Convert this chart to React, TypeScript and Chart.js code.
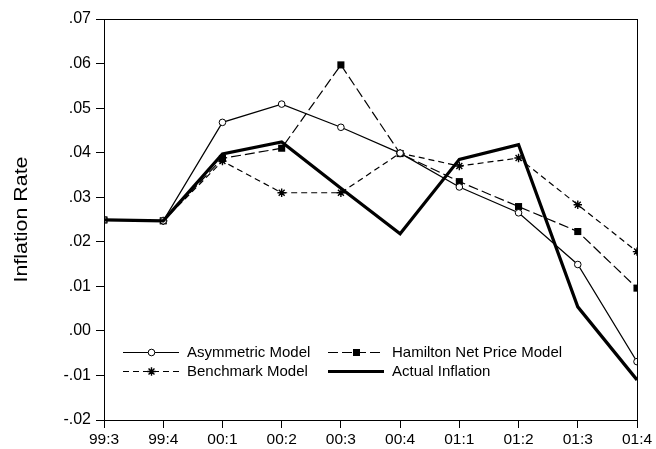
import React, { useEffect, useRef } from 'react';
import { Chart, registerables } from 'chart.js';

Chart.register(...registerables);

const categories = ['99:3', '99:4', '00:1', '00:2', '00:3', '00:4', '01:1', '01:2', '01:3', '01:4'];
const asymmetricModel = [0.0249, 0.0247, 0.0468, 0.0509, 0.0457, 0.0399, 0.0323, 0.0265, 0.0149, -0.0069];
const hamiltonModel = [0.0249, 0.0247, 0.0387, 0.041, 0.0597, 0.0398, 0.0335, 0.0279, 0.0223, 0.0096];
const benchmarkModel = [0.0249, 0.0247, 0.0381, 0.031, 0.031, 0.0399, 0.037, 0.0388, 0.0283, 0.0178];
const actualInflation = [0.0249, 0.0247, 0.0397, 0.0424, 0.032, 0.0218, 0.0385, 0.0418, 0.0054, -0.011];
const seriesNames = ['Asymmetric Model', 'Hamilton Net Price Model', 'Benchmark Model', 'Actual Inflation'];
const yAxisTitle = 'Inflation Rate';

const FONT = '"Liberation Sans", Arial, Helvetica, sans-serif';

function fmt(v: number): string {
  const s = Number(v).toFixed(2);
  return s.replace('0.', '.');
}

function drawMarker(ctx: CanvasRenderingContext2D, kind: string, x: number, y: number) {
  ctx.save();
  ctx.setLineDash([]);
  ctx.lineWidth = 1;
  ctx.strokeStyle = '#000';
  if (kind === 'circle') {
    ctx.fillStyle = '#fff';
    ctx.beginPath();
    ctx.arc(x, y, 3.3, 0, Math.PI * 2);
    ctx.fill();
    ctx.stroke();
  } else if (kind === 'rect') {
    ctx.fillStyle = '#000';
    ctx.fillRect(x - 3.5, y - 3.5, 7, 7);
  } else if (kind === 'star') {
    const r = 4.2;
    ctx.lineWidth = 1.4;
    ctx.beginPath();
    for (let i = 0; i < 4; i++) {
      const a = (i * Math.PI) / 4;
      ctx.moveTo(x - Math.cos(a) * r, y - Math.sin(a) * r);
      ctx.lineTo(x + Math.cos(a) * r, y + Math.sin(a) * r);
    }
    ctx.stroke();
  }
  ctx.restore();
}

export default function App() {
  const ref = useRef<HTMLCanvasElement>(null);

  useEffect(() => {
    if (!ref.current) return;

    const decor = {
      id: 'decor',
      afterDraw(chart: any) {
        const ctx: CanvasRenderingContext2D = chart.ctx;
        const a = chart.chartArea;
        ctx.save();
        // frame
        ctx.strokeStyle = '#000';
        ctx.lineWidth = 1;
        ctx.setLineDash([]);
        ctx.strokeRect(Math.round(a.left) + 0.5, Math.round(a.top) + 0.5, Math.round(a.right - a.left), Math.round(a.bottom - a.top));

        // y axis title
        ctx.save();
        ctx.translate(27, (a.top + a.bottom) / 2);
        ctx.rotate(-Math.PI / 2);
        ctx.font = `18px ${FONT}`;
        ctx.fillStyle = '#000';
        ctx.textAlign = 'center';
        ctx.textBaseline = 'alphabetic';
        const w = ctx.measureText(yAxisTitle).width;
        ctx.scale(126 / w, 1);
        ctx.fillText(yAxisTitle, 0, 0);
        ctx.restore();

        // legend
        const entries = [
          { name: seriesNames[0], col: 0, row: 0, dash: [] as number[], width: 1.2, marker: 'circle' },
          { name: seriesNames[1], col: 1, row: 0, dash: [10, 4], width: 1.2, marker: 'rect' },
          { name: seriesNames[2], col: 0, row: 1, dash: [6, 4], width: 1.2, marker: 'star' },
          { name: seriesNames[3], col: 1, row: 1, dash: [] as number[], width: 3, marker: '' },
        ];
        const colX = [a.left + 19, a.left + 224];
        const rowY = [a.bottom - 67.5, a.bottom - 48.5];
        ctx.font = `15px ${FONT}`;
        ctx.textAlign = 'left';
        ctx.textBaseline = 'middle';
        for (const e of entries) {
          const x0 = colX[e.col];
          const y = rowY[e.row];
          ctx.save();
          ctx.strokeStyle = '#000';
          ctx.lineWidth = e.width;
          ctx.setLineDash(e.dash);
          ctx.beginPath();
          ctx.moveTo(x0, y);
          ctx.lineTo(x0 + 56, y);
          ctx.stroke();
          ctx.restore();
          if (e.marker) drawMarker(ctx, e.marker, x0 + 28.5, y);
          ctx.fillStyle = '#000';
          ctx.fillText(e.name, x0 + 64, y + 0.5);
        }
        ctx.restore();
      },
    };

    const chart = new Chart(ref.current, {
      type: 'line',
      data: {
        labels: categories,
        datasets: [
          {
            label: seriesNames[3],
            data: actualInflation,
            borderColor: '#000',
            borderWidth: 3.2,
            pointRadius: 0,
            tension: 0,
            clip: 0,
          } as any,
          {
            label: seriesNames[0],
            data: asymmetricModel,
            borderColor: '#000',
            borderWidth: 1.2,
            pointStyle: 'circle',
            pointRadius: 3.3,
            pointBorderWidth: 1,
            pointBackgroundColor: '#fff',
            pointBorderColor: '#000',
            tension: 0,
            clip: 0,
          },
          {
            label: seriesNames[1],
            data: hamiltonModel,
            borderColor: '#000',
            borderWidth: 1.2,
            borderDash: [10, 4],
            pointStyle: 'rect',
            pointRadius: 5,
            pointBorderWidth: 0,
            pointBackgroundColor: '#000',
            pointBorderColor: '#000',
            tension: 0,
            clip: 0,
          },
          {
            label: seriesNames[2],
            data: benchmarkModel,
            borderColor: '#000',
            borderWidth: 1.2,
            borderDash: [6, 4],
            pointStyle: 'star',
            pointRadius: 4.2,
            pointBorderWidth: 1.4,
            pointBackgroundColor: '#000',
            pointBorderColor: '#000',
            tension: 0,
            clip: 0,
          },
        ],
      },
      options: {
        animation: false,
        responsive: true,
        maintainAspectRatio: false,
        devicePixelRatio: 1,
        layout: { padding: { top: 19, right: 19, left: 0, bottom: 0 } },
        plugins: {
          legend: { display: false },
          tooltip: { enabled: false },
          title: { display: false },
        },
        scales: {
          x: {
            type: 'category',
            offset: false,
            grid: { display: true, drawOnChartArea: false, drawTicks: true, tickLength: 8, color: '#000', lineWidth: 1 },
            border: { display: true, color: '#000', width: 1 },
            ticks: {
              color: '#000',
              font: { family: FONT, size: 15.5 },
              autoSkip: false,
              maxRotation: 0,
              minRotation: 0,
              padding: 2,
            },
            afterFit: (s: any) => {
              s.height = 29;
            },
          },
          y: {
            type: 'linear',
            min: -0.02,
            max: 0.07,
            grid: { display: true, drawOnChartArea: false, drawTicks: true, tickLength: 8, color: '#000', lineWidth: 1 },
            border: { display: true, color: '#000', width: 1 },
            ticks: {
              stepSize: 0.01,
              color: '#000',
              font: { family: FONT, size: 16 },
              padding: 5,
              callback: (v: any) => fmt(Number(v)),
            },
            afterFit: (s: any) => {
              s.width = 104;
            },
          },
        },
      },
      plugins: [decor],
    });

    return () => chart.destroy();
  }, []);

  return (
    <div style={{ position: 'fixed', left: 0, top: 0, width: 656, height: 449, background: '#fff' }}>
      <canvas ref={ref} />
    </div>
  );
}
